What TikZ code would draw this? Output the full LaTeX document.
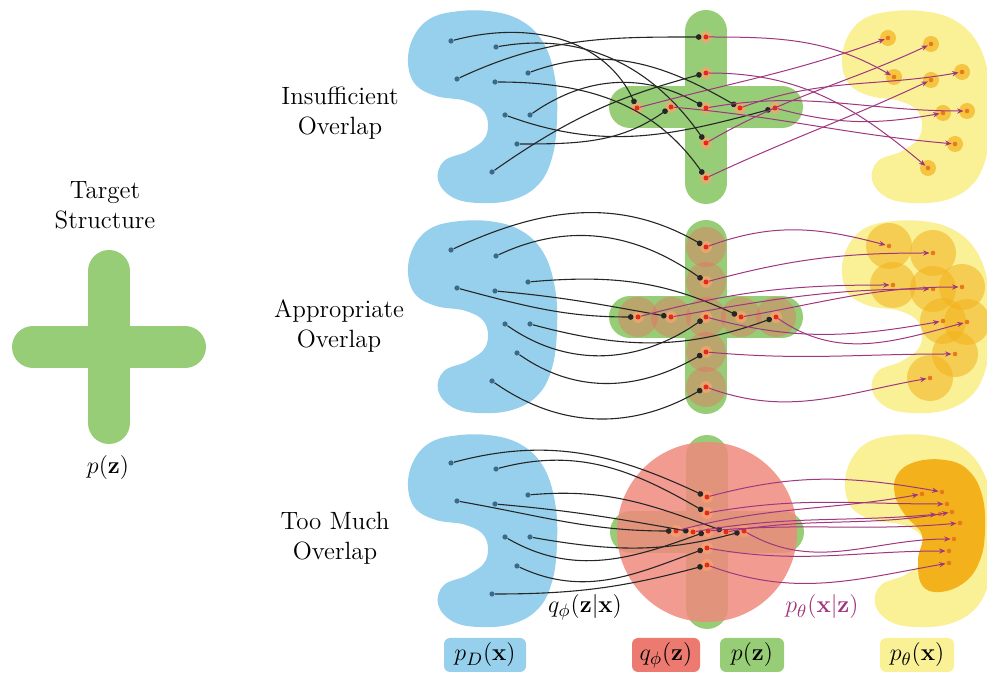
\documentclass[tikz,border=0pt]{standalone}
\usetikzlibrary{arrows.meta}
\pgfdeclarelayer{bg}
\pgfdeclarelayer{mid}
\pgfsetlayers{bg,mid,main}
\definecolor{bblue}{RGB}{150,208,236}
\definecolor{cgreen}{RGB}{150,205,118}
\definecolor{yel}{RGB}{250,240,150}
\definecolor{qred}{RGB}{236,110,98}
\definecolor{qpink}{RGB}{240,138,126}
\definecolor{qbox}{RGB}{236,122,112}
\definecolor{orng}{RGB}{243,178,28}
\definecolor{purp}{RGB}{160,54,127}
\definecolor{bdotc}{RGB}{60,105,135}
\definecolor{rdot}{RGB}{232,40,25}
\definecolor{halo}{RGB}{248,165,110}
\definecolor{xdot}{RGB}{232,120,30}
\tikzset{
  bean/.pic={\fill[#1] plot[smooth cycle,tension=0.65] coordinates {(408,62) (413,38) (428,20) (452,12) (488,11) (520,20) (543,42) (555,78) (557,120) (552,158) (538,185) (512,200) (478,203) (452,197) (438,180) (444,161) (468,151) (486,136) (485,113) (466,101) (436,96) (415,84)};},
  plus/.pic={\draw[cgreen,line width=21pt,line cap=round] (0,-76)--(0,76) (-76,0)--(76,0);},
  bpt/.style={circle,fill=bdotc,inner sep=0pt,minimum size=2.6pt},
  zpt/.style={circle,fill=rdot,inner sep=0pt,minimum size=2.5pt},
  xpt/.style={circle,fill=xdot,inner sep=0pt,minimum size=2.3pt},
  enc/.style={draw=black!85,line width=0.55pt,-{Circle[length=2.8pt]},shorten >=0.8pt},
  dec/.style={draw=purp,line width=0.5pt,-{Stealth[length=3.2pt,width=2.6pt]},shorten >=0.4pt},
  lab/.style={font=\fontsize{12.5}{15}\selectfont,align=center,inner sep=0pt},
  legbox/.style={font=\fontsize{12.5}{15}\selectfont,rounded corners=3pt,minimum height=17pt,inner sep=0pt},
}
\def\bA{1/451/41,2/496/47,3/528/73,4/457/79,5/495/82,6/505/115,7/530/115,8/517/144,9/492/172}
\def\zA{1/637/108,2/706/143,3/740/108,4/706/37,5/706/178,6/775/108,7/706/108,8/671/107,9/706/73}
\def\zB{1/706/247,2/706/282,3/741/317,4/638/317,5/671/317,6/706/317,7/776/317,8/706/352,9/706/387}
\def\zC{1/707/497,2/707/513,3/726/532,4/676/531,5/693/532,6/708/531,7/744/531,8/707/548,9/707/565}
\def\xA{1/888/38,2/931/44,3/962/72,4/894/77,5/931/80,6/943/113,7/967/111,8/955/144,9/928/168}
\def\xB{1/889/246,2/933/253,3/962/287,4/893/285,5/933/289,6/943/321,7/967/322,8/955/354,9/930/378}
\def\xC{1/942/492,2/947/504,3/952/512,4/922/494,5/940/514,6/960/523,7/954/539,8/949/551,9/949/563}
\def\eA{1/15/115,2/10/125,3/20/150,4/25/180,5/0/125,6/-20/195,7/35/150,8/0/215,9/35/195}
\def\eB{1/25/150,2/25/145,3/5/155,4/-15/180,5/-5/170,6/-35/215,7/-15/200,8/-35/210,9/-35/210}
\def\eC{1/15/155,2/15/150,3/5/160,4/-10/180,5/-5/170,6/-30/200,7/-10/195,8/-25/200,9/0/195}
\def\dA{1/15/200,2/30/205,3/20/190,4/0/150,5/25/205,6/-15/190,7/10/180,8/-5/175,9/0/140}
\def\dB{1/20/165,2/15/180,3/10/180,4/15/180,5/10/180,6/-15/190,7/-35/195,8/-5/180,9/-20/190}
\def\dC{1/15/170,2/10/180,3/10/190,4/15/190,5/10/185,6/5/185,7/-30/180,8/-10/180,9/-20/190}
\begin{document}
\begin{tikzpicture}[x=0.5pt,y=-0.5pt]
\useasboundingbox (0,0) rectangle (987,673);
\begin{pgfonlayer}{bg}
  \pic at (0,0) {bean=bblue};
  \pic at (0,210) {bean=bblue};
  \pic at (0,424) {bean=bblue};
  \pic at (434,0) {bean=yel};
  \pic at (434,210) {bean=yel};
  \pic at (437,424) {bean=yel};
  \pic at (109,347) {plus};
  \pic at (706,107) {plus};
  \pic at (706,317) {plus};
  \pic at (707,532) {plus};
  % row 2 posterior blobs
  \foreach \i/\x/\y in \zB \fill[qred,opacity=0.42] (\x,\y) circle[radius=10pt];
  % row 3 aggregate posterior
  \fill[qpink,opacity=0.85] (707,532) circle[radius=45pt];
  % row 3 decoded region
  \fill[orng] plot[smooth cycle,tension=0.7] coordinates {(897,475) (915,462) (945,460) (968,470) (982,495) (985,530) (980,560) (965,582) (940,592) (922,585) (918,560) (922,535) (905,515) (895,495)};
  % row 2 decoded blobs
  \foreach \i/\x/\y in \xB \fill[orng,opacity=0.55] (\x,\y) circle[radius=11.5pt];
  % legend
  \node[legbox,fill=bblue,minimum width=41pt] (lpd) at (485,655) {$p_D(\mathbf{x})$};
  \node[legbox,fill=qbox,minimum width=34pt] (lq) at (666,655) {$q_\phi(\mathbf{z})$};
  \node[legbox,fill=cgreen,minimum width=32pt] (lp) at (752,655) {$p(\mathbf{z})$};
  \node[legbox,fill=yel,minimum width=37pt] (lpt) at (917,655) {$p_\theta(\mathbf{x})$};
\end{pgfonlayer}
\begin{pgfonlayer}{mid}
  \foreach \i/\x/\y in \zA \fill[halo,opacity=0.7] (\x,\y) circle[radius=3pt];
  \foreach \i/\x/\y in \zB \fill[halo,opacity=0.7] (\x,\y) circle[radius=3pt];
  \foreach \i/\x/\y in \zC \fill[halo,opacity=0.7] (\x,\y) circle[radius=3pt];
  \foreach \i/\x/\y in \xA \fill[orng,opacity=0.7] (\x,\y) circle[radius=4pt];
\end{pgfonlayer}
% nodes
\foreach \i/\x/\y in \bA {
  \node[bpt] (r1b\i) at (\x,\y) {};
  \node[bpt] (r2b\i) at (\x,\y+209) {};
  \node[bpt] (r3b\i) at (\x,\y+422) {};
}
\foreach \i/\x/\y in \zA \node[zpt] (r1z\i) at (\x,\y) {};
\foreach \i/\x/\y in \zB \node[zpt] (r2z\i) at (\x,\y) {};
\foreach \i/\x/\y in \zC \node[zpt] (r3z\i) at (\x,\y) {};
\foreach \i/\x/\y in \xA \node[xpt] (r1x\i) at (\x,\y) {};
\foreach \i/\x/\y in \xB \node[xpt] (r2x\i) at (\x,\y) {};
\foreach \i/\x/\y in \xC \node[xpt] (r3x\i) at (\x,\y) {};
% encoder connectors
\foreach \i/\o/\n in \eA \draw[enc] (r1b\i) to[out=\o,in=\n] (r1z\i);
\foreach \i/\o/\n in \eB \draw[enc] (r2b\i) to[out=\o,in=\n] (r2z\i);
\foreach \i/\o/\n in \eC \draw[enc] (r3b\i) to[out=\o,in=\n] (r3z\i);
% decoder connectors
\foreach \i/\o/\n in \dA \draw[dec] (r1z\i) to[out=\o,in=\n] (r1x\i);
\foreach \i/\o/\n in \dB \draw[dec] (r2z\i) to[out=\o,in=\n] (r2x\i);
\foreach \i/\o/\n in \dC \draw[dec] (r3z\i) to[out=\o,in=\n] (r3x\i);
% labels
\node[lab] (ins) at (340,113) {Insufficient\\Overlap};
\node[lab] (app) at (339,326) {Appropriate\\Overlap};
\node[lab] (too) at (335,538) {Too Much\\Overlap};
\node[lab] (tgt) at (105,205) {Target\\Structure};
\node[lab] (pz) at (108,468) {$p(\mathbf{z})$};
\node[lab] (qzx) at (585,607) {$q_\phi(\mathbf{z}|\mathbf{x})$};
\node[lab,text=purp] (pxz) at (822,607) {$p_\theta(\mathbf{x}|\mathbf{z})$};
\end{tikzpicture}
\end{document}
